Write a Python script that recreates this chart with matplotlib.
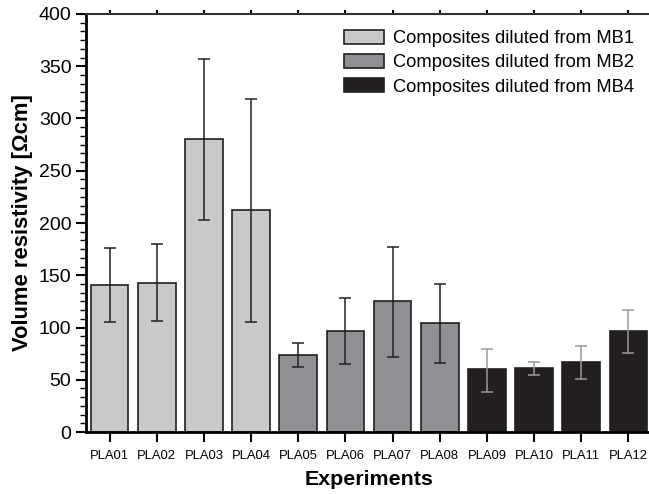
import matplotlib.pyplot as plt
import numpy as np
from matplotlib.ticker import MultipleLocator
from matplotlib.patches import Patch

plt.rcParams['font.family'] = ['Liberation Sans', 'DejaVu Sans']

labels = ['PLA01', 'PLA02', 'PLA03', 'PLA04', 'PLA05', 'PLA06',
          'PLA07', 'PLA08', 'PLA09', 'PLA10', 'PLA11', 'PLA12']
values = [141, 143, 280, 212, 73.5, 97, 125, 104.5, 60, 61.5, 67, 97]
err_low = [105, 106, 203, 105, 62, 65.5, 71.5, 66, 38.6, 54.8, 51, 76]
err_high = [176.5, 180, 357, 319, 84.8, 128, 177, 142, 79.5, 67, 82, 116.5]
groups = [0, 0, 0, 0, 1, 1, 1, 1, 2, 2, 2, 2]
group_names = ['Composites diluted from MB1', 'Composites diluted from MB2',
               'Composites diluted from MB4']

fills = ['#c8c9cb', '#8f9093', '#231f20']
err_cols = ['#231f20', '#231f20', '#9a9a9a']
edge = '#231f20'

x = np.arange(len(labels))
vals = np.array(values)
lo = vals - np.array(err_low)
hi = np.array(err_high) - vals

fig = plt.figure(figsize=(6.49, 4.94), dpi=100)
ax = fig.add_axes([86/649, 62/494, 566/649, 418/494])

for i in range(len(x)):
    g = groups[i]
    ax.bar(x[i], vals[i], width=0.8, color=fills[g], edgecolor=edge, linewidth=1.2, zorder=2)
    ax.errorbar(x[i], vals[i], yerr=[[lo[i]], [hi[i]]], fmt='none', ecolor=err_cols[g],
                elinewidth=1.1, capsize=4, capthick=1.1, zorder=3)

ax.set_xlim(-0.5, 11.5)
ax.set_ylim(0, 400)
ax.set_xticks(x)
ax.set_xticklabels(labels, fontsize=9.4)
ax.yaxis.set_major_locator(MultipleLocator(50))
ax.yaxis.set_minor_locator(MultipleLocator(50/6))
ax.tick_params(axis='y', which='major', length=7, width=1.5, labelsize=14, direction='out')
ax.tick_params(axis='y', which='minor', length=4, width=1.0, direction='out')
ax.tick_params(axis='x', which='major', length=7, width=1.5, direction='out', pad=6)
ax.tick_params(axis='x', top=True, which='major')
for t in ax.xaxis.get_major_ticks():
    t.tick2line.set_markersize(3)
    t.tick2line.set_color('#aaaaaa')

ax.spines['left'].set_linewidth(2)
ax.spines['bottom'].set_linewidth(2)
ax.spines['top'].set_linewidth(1.5)
ax.spines['top'].set_color('#333333')
ax.spines['right'].set_visible(False)

ax.set_xlabel('Experiments', fontsize=15.4, fontweight='bold', labelpad=6)
ax.set_ylabel('Volume resistivity [\u03a9cm]', fontsize=15.8, fontweight='bold', labelpad=4)

handles = [Patch(facecolor=fills[k], edgecolor=edge, linewidth=1.2) for k in range(3)]
ax.legend(handles, group_names, loc='upper left', bbox_to_anchor=(0.443, 0.98),
          frameon=False, fontsize=13.2, handlelength=2.2, handleheight=0.8,
          handletextpad=0.45, labelspacing=0.38, borderaxespad=0)

fig.savefig('out.png', dpi=100)
